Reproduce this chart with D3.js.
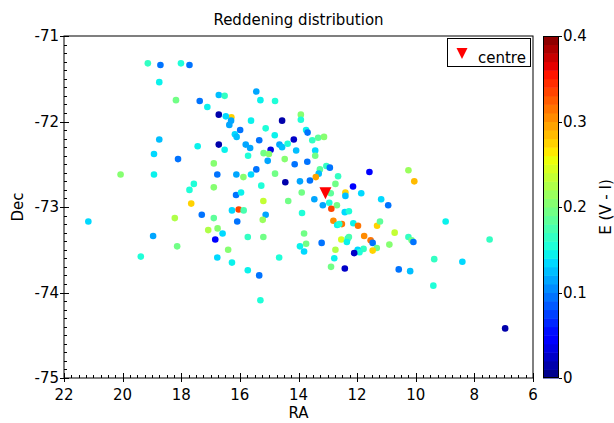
<!DOCTYPE html>
<html><head><meta charset="utf-8">
<script src="https://cdn.jsdelivr.net/npm/d3@7"></script>
<style>body{margin:0;background:#fff}text{font-family:"DejaVu Sans",sans-serif;fill:#000}</style>
</head><body>
<svg id="c" width="614" height="423"></svg>
<script>
const ra = [16.29,16.30,
19.14,18.71,18.01,17.72,18.75,18.18,17.37,17.11,16.72,16.52,16.72,16.48,18.75,17.44,16.72,16.52,18.93,18.11,16.89,20.07,
18.93,16.77,17.57,17.72,16.89,17.66,17.30,21.17,18.22,16.89,17.08,16.76,18.96,16.84,18.14,19.38,16.77,15.44,15.30,14.80,
16.36,15.62,14.56,13.92,13.92,15.12,15.99,16.17,16.11,13.74,13.69,14.81,14.16,13.53,13.33,13.13,15.34,15.80,15.65,14.95,
14.65,14.56,14.37,14.08,13.43,13.43,15.72,15.19,15.01,15.05,14.47,14.13,13.70,13.05,12.93,13.27,15.44,16.12,15.88,15.62,
14.80,13.31,12.65,11.58,13.41,13.61,13.95,14.45,15.27,12.74,12.14,13.89,12.90,12.40,12.40,11.86,16.13,15.96,15.20,14.35,
13.46,13.17,12.95,12.69,12.88,12.42,12.28,11.18,10.94,16.27,16.04,15.87,10.25,10.05,15.12,15.22,16.09,13.88,12.81,12.52,
12.68,12.61,12.13,11.97,11.32,11.22,16.59,15.73,15.20,13.81,16.40,16.27,15.73,15.34,15.30,14.66,13.95,13.81,13.74,13.21,
12.54,12.32,12.28,12.35,11.76,11.54,11.47,11.33,11.47,11.78,11.98,11.92,12.10,12.74,12.78,12.89,12.42,10.72,8.98,10.25,
10.14,10.08,10.90,7.48,9.37,8.41,10.58,10.19,9.40,6.95];
const dec = [-71.95,-71.99,
-71.32,-71.34,-71.32,-71.34,-71.54,-71.75,-71.76,-71.83,-71.69,-71.70,-71.92,-71.94,-72.21,-72.29,-72.27,-72.33,-72.38,-72.44,-72.49,-72.62,
-72.62,-72.62,-72.73,-72.80,-72.77,-72.96,-73.09,-73.17,-73.13,-73.13,-73.27,-73.25,-73.34,-73.38,-73.46,-73.58,-73.59,-71.65,-71.75,-71.76,
-72.04,-71.99,-71.99,-71.92,-71.98,-72.08,-72.10,-72.15,-72.18,-72.10,-72.13,-72.16,-72.21,-72.22,-72.19,-72.18,-72.22,-72.27,-72.31,-72.33,
-72.27,-72.30,-72.26,-72.34,-72.34,-72.40,-72.40,-72.37,-72.38,-72.46,-72.44,-72.50,-72.47,-72.52,-72.54,-72.56,-72.56,-72.62,-72.65,-72.62,
-72.61,-72.61,-72.64,-72.59,-72.65,-72.69,-72.70,-72.71,-72.75,-72.73,-72.76,-72.83,-72.84,-72.83,-72.87,-72.84,-72.86,-72.83,-72.93,-72.93,
-72.91,-72.98,-72.95,-72.98,-73.02,-73.06,-73.05,-72.91,-72.98,-73.04,-73.03,-73.04,-72.57,-72.70,-73.09,-73.15,-73.17,-73.07,-73.16,-73.20,
-73.21,-73.20,-73.19,-73.22,-73.22,-73.17,-73.31,-73.35,-73.35,-73.31,-73.50,-73.65,-73.74,-73.80,-74.09,-73.59,-73.46,-73.52,-73.43,-73.42,
-73.38,-73.37,-73.35,-73.41,-73.34,-73.39,-73.42,-73.48,-73.51,-73.49,-73.50,-73.53,-73.54,-73.50,-73.60,-73.70,-73.72,-73.30,-73.17,-73.35,
-73.39,-73.41,-73.44,-73.38,-73.61,-73.64,-73.73,-73.75,-73.92,-74.42];
const ebv = [0.27,0.11,
0.16,0.09,0.15,0.09,0.14,0.19,0.09,0.14,0.12,0.16,0.01,0.13,0.12,0.14,0.01,0.14,0.13,0.09,0.20,0.20,
0.14,0.09,0.15,0.15,0.20,0.27,0.09,0.13,0.22,0.18,0.22,0.20,0.11,0.045,0.19,0.15,0.13,0.11,0.14,0.15,
0.11,0.14,0.01,0.20,0.15,0.15,0.09,0.13,0.12,0.14,0.09,0.14,0.02,0.16,0.18,0.20,0.09,0.11,0.11,0.03,
0.11,0.12,0.15,0.12,0.13,0.19,0.15,0.19,0.20,0.11,0.20,0.09,0.09,0.16,0.09,0.18,0.09,0.11,0.20,0.13,
0.19,0.12,0.16,0.04,0.29,0.09,0.11,0.01,0.15,0.19,0.04,0.19,0.18,0.27,0.12,0.13,0.09,0.14,0.23,0.19,
0.11,0.11,0.15,0.19,0.33,0.13,0.15,0.13,0.09,0.13,0.33,0.17,0.21,0.28,0.11,0.21,0.09,0.15,0.30,0.31,
0.14,0.15,0.14,0.31,0.27,0.18,0.13,0.16,0.19,0.19,0.20,0.14,0.14,0.09,0.15,0.15,0.14,0.13,0.19,0.09,
0.24,0.16,0.17,0.14,0.30,0.31,0.09,0.19,0.27,0.16,0.13,0.15,0.02,0.22,0.14,0.19,0.02,0.23,0.14,0.16,
0.19,0.09,0.20,0.16,0.16,0.13,0.09,0.12,0.15,0.01];
const centreRA = 13.08, centreDec = -72.84;
const xTicks = [22,20,18,16,14,12,10,8,6];
const yTicks = [-71,-72,-73,-74,-75];
const cTicks = [0,0.1,0.2,0.3,0.4];

const svg = d3.select("#c");
const L=64,R=533,T=36,B=378;
const x = d3.scaleLinear().domain([22,6]).range([L,R]);
const y = d3.scaleLinear().domain([-71,-75]).range([T,B]);
const jr = d3.scaleLinear().domain([0,0.35,0.66,0.89,1]).range([0,0,1,1,0.5]).clamp(true);
const jg = d3.scaleLinear().domain([0,0.125,0.375,0.64,0.91,1]).range([0,0,1,1,0,0]).clamp(true);
const jb = d3.scaleLinear().domain([0,0.11,0.34,0.65,1]).range([0.5,1,1,0,0]).clamp(true);
const NB=40;
const jet = t => d3.rgb(jr(t)*255, jg(t)*255, jb(t)*255).toString();
const cnorm = d3.scaleLinear().domain([0,0.4]).range([0,1]).clamp(true);
const qcol = v => { let k=Math.min(NB-1,Math.floor(cnorm(v)*NB+1e-9)); return jet((k+0.5)/NB); };
const triPath = s => d3.line()([[-s,-s],[s,-s],[0,s]]) + "Z";

svg.append("rect").attr("width",614).attr("height",423).attr("fill","#fff");

const pts = ra.map((r,i)=>({r, d:dec[i], v:ebv[i]}));
svg.append("g").selectAll("circle").data(pts).join("circle")
  .attr("cx",p=>x(p.r)).attr("cy",p=>y(p.d)).attr("r",3.3)
  .attr("fill",p=>qcol(p.v));

svg.append("path").attr("d",triPath(6)).attr("fill","#ff0000")
  .attr("transform",`translate(${x(centreRA)},${y(centreDec)})`);

svg.append("rect").attr("x",L).attr("y",T).attr("width",R-L).attr("height",B-T)
  .attr("fill","none").attr("stroke","#000").attr("stroke-width",1);

const g = svg.append("g").attr("stroke","#000").attr("stroke-width",1);
d3.range(6,22.001,0.25).forEach(v=>{
  const px=Math.round(x(v))+0.5;
  const major = Math.abs(v/2-Math.round(v/2))<1e-6;
  g.append("line").attr("x1",px).attr("x2",px).attr("y1",major?B+4:B).attr("y2",major?B-5:B-3);
});
d3.range(-75,-70.999,0.1).forEach(v=>{
  const py=Math.round(y(v))+0.5;
  const major = Math.abs(v-Math.round(v))<1e-6;
  g.append("line").attr("y1",py).attr("y2",py).attr("x1",major?L-4:L).attr("x2",major?L+5:L+3);
});
svg.append("g").selectAll("text").data(xTicks).join("text")
  .attr("x",d=>x(d)).attr("y",B+22).attr("text-anchor","middle").attr("font-size",15).text(d=>d);
svg.append("g").selectAll("text").data(yTicks).join("text")
  .attr("x",L-5).attr("y",d=>y(d)+5).attr("text-anchor","end").attr("font-size",15).text(d=>d);

svg.append("text").attr("x",(L+R)/2).attr("y",25).attr("text-anchor","middle").attr("font-size",15).text("Reddening distribution");
svg.append("text").attr("x",(L+R)/2).attr("y",418).attr("text-anchor","middle").attr("font-size",15).text("RA");
svg.append("text").attr("transform",`translate(23,${(T+B)/2}) rotate(-90)`).attr("text-anchor","middle").attr("font-size",15).text("Dec");

svg.append("rect").attr("x",447.5).attr("y",38.5).attr("width",83).attr("height",28).attr("fill","#fff").attr("stroke","#000");
svg.append("path").attr("d",triPath(5.5)).attr("fill","#ff0000").attr("transform","translate(462,53.5)");
svg.append("text").attr("x",478).attr("y",63).attr("font-size",15).text("centre");

const CX=543, CW=16;
const cy = d3.scaleLinear().domain([0,0.4]).range([B,T]);
svg.append("g").selectAll("rect").data(d3.range(NB)).join("rect")
  .attr("x",CX).attr("width",CW)
  .attr("y",k=>cy((k+1)*0.4/NB)).attr("height",k=>cy(k*0.4/NB)-cy((k+1)*0.4/NB)+0.5)
  .attr("fill",k=>jet((k+0.5)/NB));
svg.append("rect").attr("x",CX+0.5).attr("y",T+0.5).attr("width",CW-1).attr("height",B-T-1).attr("fill","none").attr("stroke","#000").attr("stroke-width",1);
cTicks.forEach(t=>{
  const py=Math.round(cy(t))+0.5;
  g.append("line").attr("x1",CX+CW).attr("x2",CX+CW+3).attr("y1",py).attr("y2",py);
  svg.append("text").attr("x",CX+CW+4).attr("y",cy(t)+5).attr("font-size",15).text(t===0?"0":t.toFixed(1));
});
svg.append("text").attr("transform",`translate(611,${(T+B)/2}) rotate(-90)`).attr("text-anchor","middle").attr("font-size",15).text("E (V - I)");
</script>
</body></html>
